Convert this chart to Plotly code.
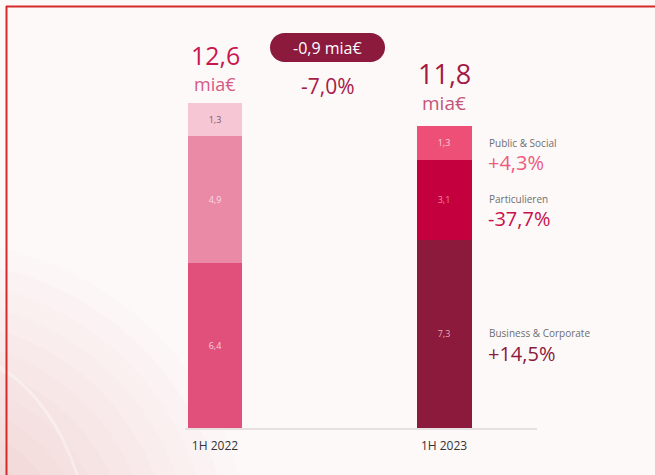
import plotly.graph_objects as go

# ---- data ----
categories = ["1H 2022", "1H 2023"]
segments = ["Business & Corporate", "Particulieren", "Public & Social"]
business = [6.4, 7.3]
particulieren = [4.9, 3.1]
public = [1.3, 1.3]
totals = ["12,6", "11,8"]
changes = ["+14,5%", "-37,7%", "+4,3%"]
delta_abs = "-0,9 mia€"
delta_pct = "-7,0%"

colors = {
    "Business & Corporate": ["#e0507a", "#8b1a3c"],
    "Particulieren": ["#eb8aa7", "#c5003f"],
    "Public & Social": ["#f6c6d5", "#ee4f77"],
}
text_colors = {
    "Business & Corporate": ["#f7d3de", "#e7a9bb"],
    "Particulieren": ["#f9dbe4", "#f08aa8"],
    "Public & Social": ["#7a5a66", "#fbd3de"],
}
values = {"Business & Corporate": business, "Particulieren": particulieren, "Public & Social": public}

# plot area in pixels
L, R, T, B = 185, 537, 40, 428
W, H = 655, 475


def xp(px):
    return (px - L) / (R - L)


def yp(py):
    return (B - py) / (B - T)


FONT = "Open Sans"
fig = go.Figure()
for seg in segments:
    fig.add_trace(go.Bar(
        x=categories, y=values[seg], name=seg,
        marker=dict(color=colors[seg], line=dict(width=0)),
        width=0.24,
        texttemplate="%{y:.1f}", textposition="inside", insidetextanchor="middle",
        textfont=dict(size=9, color=text_colors[seg], family=FONT),
        textangle=0, constraintext="none",
        hoverinfo="skip",
    ))

shapes = []
# background soft pink glow bottom-left (stacked translucent circles)
cx, cy = -70, 560
for i in range(14):
    rad = 320 - i * 20
    shapes.append(dict(type="circle", xref="paper", yref="paper",
                       x0=xp(cx - rad), x1=xp(cx + rad), y0=yp(cy + rad), y1=yp(cy - rad),
                       fillcolor="#e9849f", opacity=0.028, line=dict(width=0), layer="below"))
# faint arc
shapes.append(dict(type="circle", xref="paper", yref="paper",
                   x0=xp(-60 - 150), x1=xp(-60 + 150), y0=yp(560 + 210), y1=yp(560 - 210),
                   fillcolor="rgba(0,0,0,0)", line=dict(width=3, color="rgba(255,255,255,0.35)"), layer="below"))
# red frame top & left
shapes.append(dict(type="line", xref="paper", yref="paper", x0=xp(6), x1=xp(W + 5), y0=yp(6.5), y1=yp(6.5),
                   line=dict(color="#d42a2a", width=2)))
shapes.append(dict(type="line", xref="paper", yref="paper", x0=xp(6.5), x1=xp(6.5), y0=yp(6), y1=yp(H + 5),
                   line=dict(color="#d42a2a", width=2)))
# badge pill
r, a, k = 14.5, 43.0, 0.5523
path = (f"M {-a},{-r} L {a},{-r} C {a+k*r},{-r} {a+r},{-k*r} {a+r},0 "
        f"C {a+r},{k*r} {a+k*r},{r} {a},{r} L {-a},{r} "
        f"C {-a-k*r},{r} {-a-r},{k*r} {-a-r},0 C {-a-r},{-k*r} {-a-k*r},{-r} {-a},{-r} Z")
shapes.append(dict(type="path", xref="paper", yref="paper", xsizemode="pixel", ysizemode="pixel",
                   xanchor=xp(327.5), yanchor=yp(47.5), path=path,
                   fillcolor="#8b1a3c", line=dict(width=0)))

ann = []


def add(x, py, text, size, color, xref="paper", xanchor="center"):
    ann.append(dict(x=x, y=yp(py), xref=xref, yref="paper", text=text, showarrow=False,
                    xanchor=xanchor, yanchor="middle",
                    font=dict(size=size, color=color, family=FONT)))


# totals
add(categories[0], 55, totals[0], 25, "#c8174d", xref="x")
add(categories[0], 84, "mia€", 18, "#d65a85", xref="x")
add(categories[1], 73, totals[1], 27, "#a31a45", xref="x")
add(categories[1], 103, "mia€", 19, "#c4557a", xref="x")
# delta
add(xp(327.5), 47.5, delta_abs, 16, "#ffffff")
add(xp(328), 86, delta_pct, 21, "#a81a47")
# right side labels
pos = {"Public & Social": (143, 162, "#ee5a7e"),
       "Particulieren": (199, 218, "#c8104a"),
       "Business & Corporate": (333, 353, "#8b1a3c")}
for seg, chg in zip(segments, changes):
    ly, cy2, col = pos[seg]
    add(xp(487), ly, seg, 10, "#6e6e6e", xanchor="left")
    add(xp(486), cy2, chg, 20, col, xanchor="left")

fig.update_layout(
    width=W, height=H, autosize=False,
    margin=dict(l=L, r=W - R, t=T, b=H - B, pad=0),
    barmode="stack", showlegend=False,
    separators=",.",
    paper_bgcolor="#fdf9f9", plot_bgcolor="rgba(0,0,0,0)",
    shapes=shapes, annotations=ann,
    xaxis=dict(type="category", range=[-0.131, 1.406], showgrid=False, zeroline=False,
               showline=True, linecolor="#e6e0e0", linewidth=1.5, ticks="",
               ticklabelstandoff=6,
               tickfont=dict(size=12, color="#333333", family=FONT), fixedrange=True),
    yaxis=dict(range=[0, (B - T) / 25.8], visible=False, fixedrange=True),
    font=dict(family=FONT),
)

fig.write_html("out.html")
